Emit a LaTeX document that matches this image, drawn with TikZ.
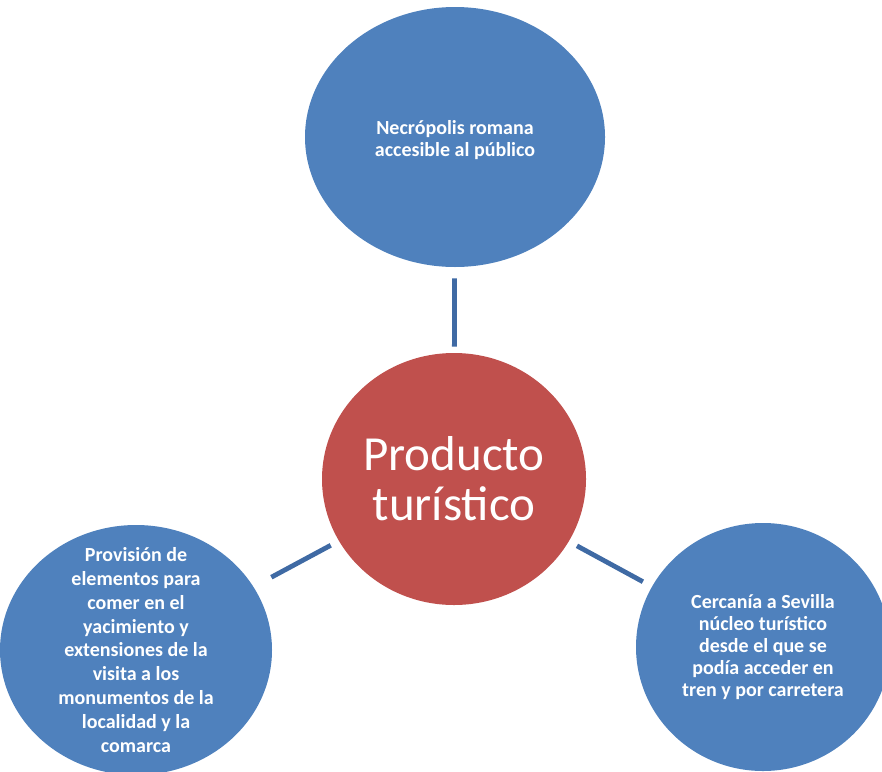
\documentclass[tikz,border=0pt]{standalone}
\usepackage{fontspec}
\setmainfont{Carlito}
\usetikzlibrary{shapes.geometric}
\definecolor{bubbleblue}{HTML}{4F81BD}
\definecolor{corered}{HTML}{C0504D}
\definecolor{linkblue}{HTML}{3F6AA4}
\begin{document}
\begin{tikzpicture}[x=0.5pt,y=-0.5pt,
  bubble/.style={ellipse,fill=bubbleblue,draw=none,inner sep=0pt},
  caption/.style={text=white,align=center,font=\bfseries\fontsize{10}{11}\selectfont},
  link/.style={draw=linkblue,line width=2.4pt}]
\useasboundingbox (0,0) rectangle (882,771);
\begin{scope}
\clip (0,0) rectangle (882,771);
\node[bubble,minimum width=150pt,minimum height=130pt,
  label={[caption,yshift=-1.5pt]center:{Necrópolis romana\\accesible al público}}] (necro) at (455,137) {};
\node[ellipse,fill=corered,inner sep=0pt,minimum width=132pt,minimum height=126pt,
  text=white,align=center,font=\fontsize{24.5}{25}\selectfont] (core) at (454,479)
  {Producto\\turístico};
\node[bubble,minimum width=136pt,minimum height=125pt,
  label={[caption,font=\bfseries\fontsize{10}{11.9}\selectfont]center:{Provisión de\\elementos para\\comer en el\\yacimiento y\\extensiones de la\\visita a los\\monumentos de la\\localidad y la\\comarca}}] (food) at (136,650) {};
\node[bubble,minimum width=127pt,minimum height=124pt,
  label={[caption]center:{Cercanía a Sevilla\\núcleo turístico\\desde el que se\\podía acceder en\\tren y por carretera}}] (sevilla) at (763,647) {};
\end{scope}
\draw[link,shorten <=5.5pt,shorten >=3pt] (necro) -- (core);
\draw[link,shorten <=10pt,shorten >=4.5pt] (food) -- (core);
\draw[link,shorten <=4.5pt,shorten >=5pt] (core) -- (sevilla);
\end{tikzpicture}
\end{document}
